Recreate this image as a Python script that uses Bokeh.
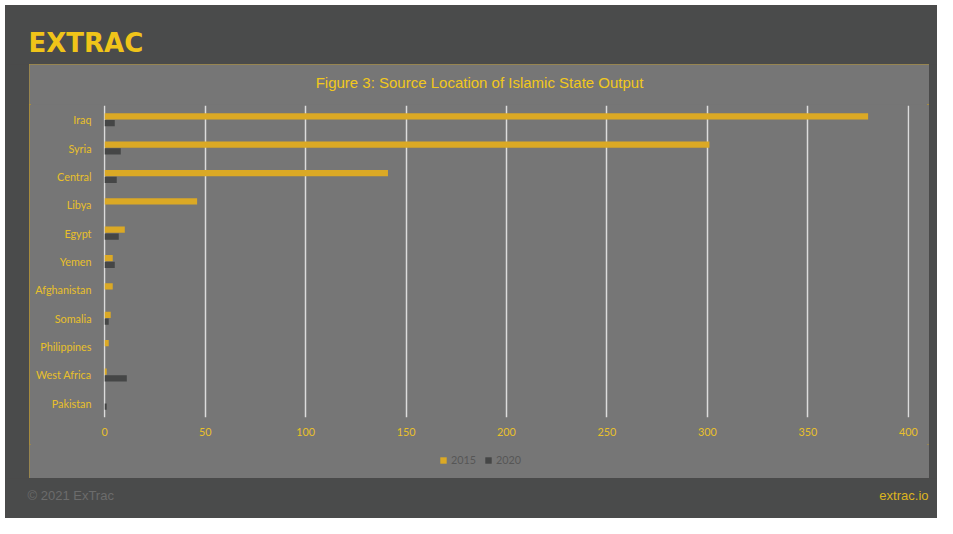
from bokeh.plotting import figure
from bokeh.models import (FactorRange, Range1d, Label, Legend, LegendItem,
                          ColumnDataSource, FixedTicker, Spacer)
from bokeh.layouts import row, column
from bokeh.transform import dodge
from bokeh.embed import file_html
from bokeh.resources import INLINE

# ---- data ----
categories = ["Iraq", "Syria", "Central", "Libya", "Egypt", "Yemen",
              "Afghanistan", "Somalia", "Philippines", "West Africa", "Pakistan"]
values_2015 = [380, 301, 141, 46, 10, 4, 4, 3, 2, 1, 0]
values_2020 = [5, 8, 6, 0, 7, 5, 0, 2, 0, 11, 1]
series_names = ["2015", "2020"]
x_ticks = [0, 50, 100, 150, 200, 250, 300, 350, 400]

title_text = "Figure 3: Source Location of Islamic State Output"
logo_text = "EXTRAC"
copyright_text = "\u00a9 2021 ExTrac"
site_text = "extrac.io"

# ---- styles ----
DARK_BG = "#4a4b4b"
PANEL = "#767676"
PANEL_BORDER = "#b8952c"
GOLD_TEXT = "#e9c02a"
TITLE_GOLD = "#f2c81c"
BAR_2015 = "#dba925"
BAR_2020 = "#454646"


def box_fig(w, h, color):
    f = figure(width=w, height=h, x_range=Range1d(0, w), y_range=Range1d(h, 0),
               output_backend="svg", toolbar_location=None, min_border=0,
               x_axis_type=None, y_axis_type=None, title=None, frame_align=False)
    f.border_fill_color = color
    f.background_fill_color = color
    f.outline_line_color = None
    return f


# header with logo
header = box_fig(932, 59, DARK_BG)
header.add_layout(Label(x=23, y=37.5, text=logo_text, text_font="DejaVu Sans",
                        text_font_style="bold", text_font_size="26px",
                        text_color="#f0c419", text_baseline="middle"))

# footer
footer = box_fig(932, 40, DARK_BG)
footer.add_layout(Label(x=22, y=17, text=copyright_text, text_font="Liberation Sans",
                        text_font_size="13px", text_color="#6c6c6c",
                        text_baseline="middle"))
footer.add_layout(Label(x=923, y=17, text=site_text, text_align="right",
                        text_font="Liberation Sans", text_font_size="13px",
                        text_color="#dcb520", text_baseline="middle"))

left_strip = box_fig(24, 414, DARK_BG)
right_strip = box_fig(8, 414, DARK_BG)

# title strip of the panel
title_fig = box_fig(900, 40, PANEL)
title_fig.add_layout(Label(x=450, y=17.7, text=title_text, text_align="center",
                           text_baseline="middle", text_font="Liberation Sans",
                           text_font_size="15px", text_color=TITLE_GOLD))

# main chart
source = ColumnDataSource(dict(cat=categories, v2015=values_2015, v2020=values_2020))

p = figure(width=900, height=340, output_backend="svg", toolbar_location=None,
           title=None, frame_align=False,
           y_range=FactorRange(*reversed(categories)), x_range=Range1d(-0.6, 400.6),
           min_border_left=74, min_border_right=20, min_border_top=1,
           min_border_bottom=27)
p.border_fill_color = PANEL
p.background_fill_color = PANEL
p.outline_line_color = None

r1 = p.hbar(y=dodge("cat", 0.12, range=p.y_range), right="v2015", left=0,
            height=0.22, source=source, color=BAR_2015, line_color=None)
r2 = p.hbar(y=dodge("cat", -0.12, range=p.y_range), right="v2020", left=0,
            height=0.22, source=source, color=BAR_2020, line_color=None)

p.xaxis.ticker = FixedTicker(ticks=x_ticks)
for ax in (p.xaxis[0], p.yaxis[0]):
    ax.axis_line_color = None
    ax.major_tick_line_color = None
    ax.minor_tick_line_color = None
    ax.major_tick_out = 0
    ax.major_tick_in = 0
    ax.major_label_text_color = GOLD_TEXT
    ax.major_label_text_font = "Lato"
    ax.major_label_text_font_size = "10.8px"
p.xaxis.major_label_standoff = 10
p.yaxis.major_label_standoff = 12
p.ygrid.grid_line_color = None
p.xgrid.grid_line_color = "#dcdcdc"
p.xgrid.grid_line_width = 1.5

# legend strip of the panel (legend keys drawn from hidden proxy renderers)
legend_fig = box_fig(900, 34, PANEL)
k1 = legend_fig.hbar(y=[0], right=[0], height=1, color=BAR_2015,
                     line_color=None, visible=False)
k2 = legend_fig.hbar(y=[0], right=[0], height=1, color=BAR_2020,
                     line_color=None, visible=False)
legend = Legend(items=[LegendItem(label=series_names[0], renderers=[k1]),
                       LegendItem(label=series_names[1], renderers=[k2])],
                orientation="horizontal", location=(410, 12),
                glyph_width=8, glyph_height=8, label_text_font="Lato",
                label_text_font_size="10.8px", label_text_color="#565656",
                background_fill_alpha=0, border_line_alpha=0,
                padding=0, margin=0, spacing=8, label_standoff=4)
legend_fig.add_layout(legend)

panel = column(title_fig, p, legend_fig,
               styles={"background-color": PANEL,
                       "outline": "2px solid " + PANEL_BORDER,
                       "outline-offset": "-2px"})

content = column(header, row(left_strip, panel, right_strip), footer,
                 styles={"background-color": DARK_BG})
layout = row(Spacer(width=5, height=518), column(Spacer(width=932, height=5), content))

open("out.html", "w").write(file_html(layout, INLINE))
